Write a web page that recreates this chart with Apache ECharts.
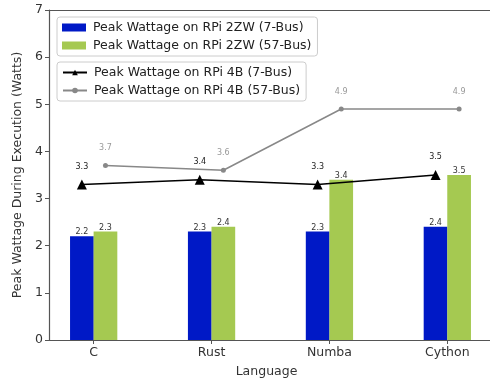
<!DOCTYPE html>
<html><head><meta charset="utf-8">
<script src="https://cdn.jsdelivr.net/npm/echarts@6/dist/echarts.min.js"></script>
<style>html,body{margin:0;padding:0;background:#fff;overflow:hidden}#c{width:490px;height:383px}</style>
</head><body><div id="c"></div>
<script>
const categories = ['C', 'Rust', 'Numba', 'Cython'];
const zw7 = [2.2, 2.3, 2.3, 2.4];
const zw57 = [2.3, 2.4, 3.4, 3.5];
const b4_7 = [3.3, 3.4, 3.3, 3.5];
const b4_57 = [3.7, 3.6, 4.9, 4.9];
const yTicks = [0, 1, 2, 3, 4, 5, 6, 7];
const names = ['Peak Wattage on RPi 2ZW (7-Bus)', 'Peak Wattage on RPi 2ZW (57-Bus)',
  'Peak Wattage on RPi 4B (7-Bus)', 'Peak Wattage on RPi 4B (57-Bus)'];
const off = 0.1;
const pts = (arr, d) => arr.map((v, i) => [i + d, v]);
const F = 'DejaVu Sans';
const FS = 12.5;
const XMIN = -0.379, XMAX = 3.362;
const chart = echarts.init(document.getElementById('c'));
chart.setOption({
  animation: false,
  textStyle: {fontFamily: F},
  grid: {left: 49, right: -3, top: 10, bottom: 41},
  xAxis: [{
    type: 'value', min: XMIN, max: XMAX,
    name: 'Language', nameLocation: 'middle', nameGap: 25,
    nameTextStyle: {fontSize: FS, color: '#333', fontFamily: F, padding: [0, 6, 0, 0]},
    axisLine: {show: true, lineStyle: {color: '#555', width: 1.2}},
    axisTick: {show: true, customValues: [0, 1, 2, 3], length: 4, lineStyle: {color: '#555'}},
    axisLabel: {customValues: [0, 1, 2, 3], formatter: v => categories[Math.round(v)], fontSize: FS, color: '#333', margin: 6},
    splitLine: {show: false}
  }, {
    type: 'value', position: 'top', min: XMIN, max: XMAX,
    axisLine: {show: true, lineStyle: {color: '#555', width: 1.2}},
    axisTick: {show: false}, axisLabel: {show: false}, splitLine: {show: false}
  }],
  yAxis: {
    type: 'value', min: yTicks[0], max: yTicks[yTicks.length - 1], interval: 1,
    name: 'Peak Wattage During Execution (Watts)', nameLocation: 'middle', nameGap: 24,
    nameTextStyle: {fontSize: FS, color: '#333', fontFamily: F},
    axisLine: {show: true, onZero: false, lineStyle: {color: '#555', width: 1.2}},
    axisTick: {show: true, length: 4, lineStyle: {color: '#555'}},
    axisLabel: {fontSize: FS, color: '#333', margin: 6},
    splitLine: {show: false}
  },
  legend: [{
    data: [names[0], names[1]], orient: 'vertical', left: 57, top: 17,
    icon: 'rect', itemWidth: 24, itemHeight: 8, itemGap: 5,
    padding: [4, 6, 4, 5], borderColor: '#ccc', borderWidth: 1, borderRadius: 3,
    textStyle: {fontSize: FS, color: '#222', fontFamily: F, padding: [0, 0, 0, 2]}
  }, {
    data: [names[2], names[3]], orient: 'vertical', left: 57, top: 62,
    itemWidth: 24, itemHeight: 7, itemGap: 5,
    padding: [4, 6, 4, 5], borderColor: '#ccc', borderWidth: 1, borderRadius: 3,
    textStyle: {fontSize: FS, color: '#222', fontFamily: F, padding: [0, 0, 0, 2]}
  }],
  series: [{
    name: names[0], type: 'bar', barWidth: 23.7, barGap: '-100%',
    itemStyle: {color: '#0019c6'}, data: pts(zw7, -off),
    label: {show: true, position: 'top', distance: 0, fontSize: 8, color: '#333', formatter: p => p.value[1]}
  }, {
    name: names[1], type: 'bar', barWidth: 23.7, barGap: '-100%',
    itemStyle: {color: '#a5c951'}, data: pts(zw57, off),
    label: {show: true, position: 'top', distance: 0, fontSize: 8, color: '#333', formatter: p => p.value[1]}
  }, {
    name: names[2], type: 'line', symbol: 'triangle', symbolSize: 10,
    lineStyle: {color: '#000', width: 1.5}, itemStyle: {color: '#000'},
    data: pts(b4_7, -off),
    label: {show: true, position: 'top', distance: 9, fontSize: 8, color: '#222', formatter: p => p.value[1]}
  }, {
    name: names[3], type: 'line', symbol: 'circle', symbolSize: 5,
    lineStyle: {color: '#888', width: 1.5}, itemStyle: {color: '#888'},
    data: pts(b4_57, off),
    label: {show: true, position: 'top', distance: 11, fontSize: 8, color: '#999', formatter: p => p.value[1]}
  }]
});
</script></body></html>
